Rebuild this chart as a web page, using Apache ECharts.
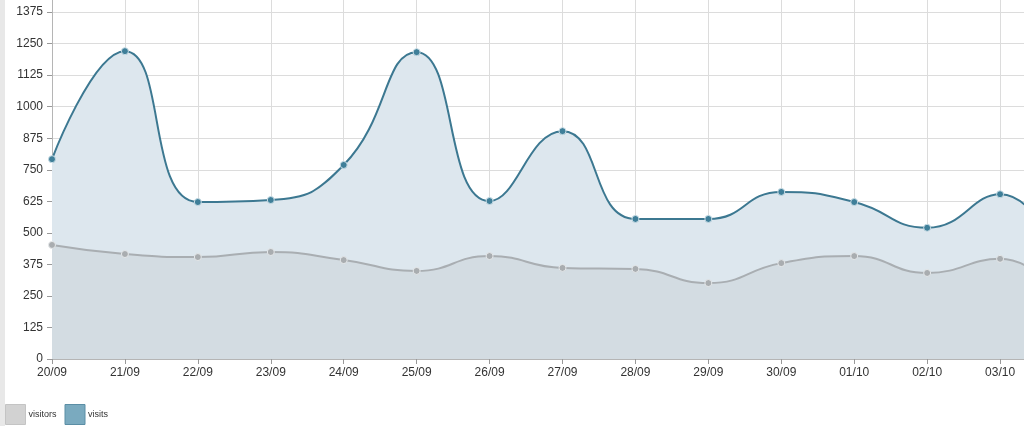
<!DOCTYPE html>
<html><head><meta charset="utf-8">
<style>html,body{margin:0;padding:0;overflow:hidden;background:#fff}#c{width:1080px;height:426px}</style>
<script src="https://cdn.jsdelivr.net/npm/echarts@6/dist/echarts.min.js"></script>
</head><body><div id="c"></div>
<script>
const categories = ['20/09','21/09','22/09','23/09','24/09','25/09','26/09','27/09','28/09','29/09','30/09','01/10','02/10','03/10','04/10'];
const visits = [792, 1220, 622, 630, 769, 1216, 626, 903, 555, 555, 662, 622, 520, 653, 260];
const visitors = [452, 416, 404, 424, 392, 349, 408, 361, 357, 301, 380, 408, 341, 397, 180];

const chart = echarts.init(document.getElementById('c'), null, {renderer:'canvas'});
chart.setOption({
  animation:false,
  backgroundColor:'#fff',
  graphic:[{type:'rect', left:0, top:0, shape:{width:5, height:426}, style:{fill:'#e8e8e8'}}],
  grid:{left:52, right:7, top:-19.5, bottom:67, outerBoundsMode:'none', containLabel:false},
  legend:{
    left:5, bottom:1, padding:0, itemWidth:20, itemHeight:20, itemGap:8, icon:'rect',
    textStyle:{fontSize:9, color:'#333', fontFamily:'Liberation Sans', padding:[0,0,0,-2]},
    data:[
      {name:'visitors', itemStyle:{color:'#d2d2d2', borderColor:'#c4c4c4', borderWidth:1}},
      {name:'visits', itemStyle:{color:'#7aaabf', borderColor:'#5b8ea5', borderWidth:1}}
    ]
  },
  xAxis:{
    type:'category', data:categories, boundaryGap:false,
    axisLine:{lineStyle:{color:'#b5b5b5'}},
    axisTick:{show:true, length:5, lineStyle:{color:'#999'}},
    axisLabel:{color:'#333', fontSize:12, fontFamily:'Liberation Sans', margin:8, interval:0},
    splitLine:{show:true, lineStyle:{color:'#dcdcdc'}}
  },
  yAxis:{
    type:'value', min:0, max:1500, interval:125,
    axisLine:{show:true, lineStyle:{color:'#b5b5b5'}},
    axisTick:{show:true, length:5, lineStyle:{color:'#999'}},
    axisLabel:{color:'#333', fontSize:12, fontFamily:'Liberation Sans', margin:9, formatter:function(v){return String(v);}},
    splitLine:{show:true, lineStyle:{color:'#dcdcdc'}}
  },
  series:[
    {name:'visits', type:'line', data:visits, smooth:0.5,
     symbol:'circle', symbolSize:7,
     lineStyle:{color:'#3c7891', width:2},
     itemStyle:{color:'#3f7f99', borderColor:'#c9dde6', borderWidth:1},
     areaStyle:{color:'#dde7ee', opacity:1}},
    {name:'visitors', type:'line', data:visitors, smooth:0.5,
     symbol:'circle', symbolSize:7,
     lineStyle:{color:'#a9aeb2', width:2},
     itemStyle:{color:'#a9adb0', borderColor:'#e6e9eb', borderWidth:1},
     areaStyle:{color:'#d3dce2', opacity:1}}
  ]
});
</script></body></html>
